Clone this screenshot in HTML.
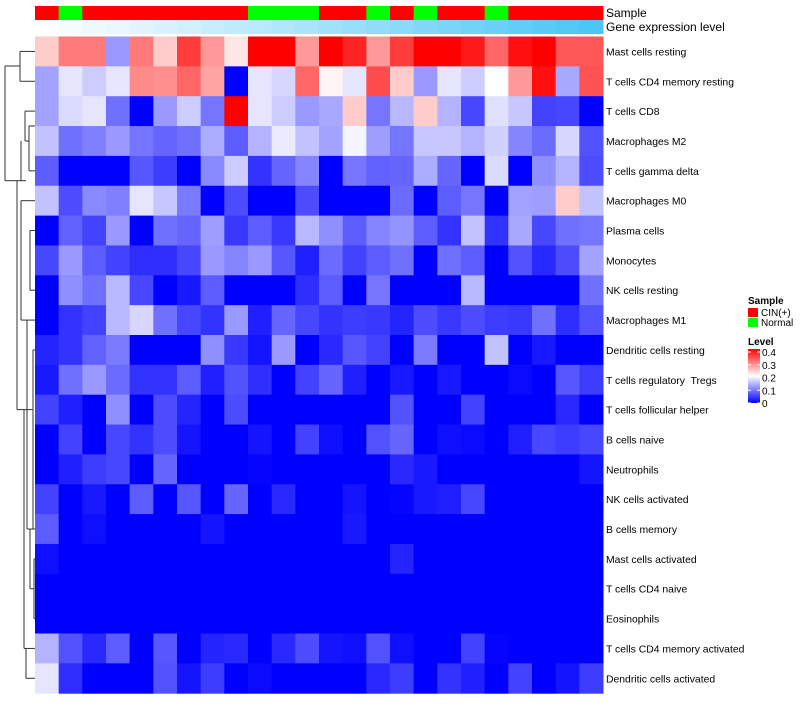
<!DOCTYPE html>
<html><head><meta charset="utf-8"><style>
body{margin:0;background:#fff;font-family:"Liberation Sans",sans-serif}
svg text{font-family:"Liberation Sans",sans-serif;white-space:pre}
</style></head><body>
<svg id="chart" width="800" height="700" xmlns="http://www.w3.org/2000/svg">
<g id="dendro" stroke="#333" stroke-width="1" fill="none"></g>
<g id="cells"></g>
<g id="annot"></g>
<g id="labels" font-size="10.4" fill="#000"></g>
<text x="606" y="17" font-size="12">Sample</text>
<text x="606" y="31" font-size="12">Gene expression level</text>
<g>
<text x="748" y="304" font-size="10" font-weight="bold">Sample</text>
<rect x="748" y="308" width="10" height="9" fill="#ff0000"/>
<text x="761" y="316" font-size="10">CIN(+)</text>
<rect x="748" y="318" width="10" height="9" fill="#00ff00"/>
<text x="761" y="326" font-size="10">Normal</text>
<text x="748" y="345" font-size="10" font-weight="bold">Level</text>
<defs><linearGradient id="lg" x1="0" y1="1" x2="0" y2="0"><stop offset="0" stop-color="#0000ff"/><stop offset="0.5" stop-color="#ffffff"/><stop offset="1" stop-color="#ff0000"/></linearGradient></defs>
<rect x="748" y="349" width="12" height="54" fill="url(#lg)"/>
<g id="lticks" font-size="10"></g>
</g>
</svg>
<script>
const rowNames=["Mast cells resting","T cells CD4 memory resting","T cells CD8","Macrophages M2","T cells gamma delta","Macrophages M0","Plasma cells","Monocytes","NK cells resting","Macrophages M1","Dendritic cells resting","T cells regulatory  Tregs","T cells follicular helper","B cells naive","Neutrophils","NK cells activated","B cells memory","Mast cells activated","T cells CD4 naive","Eosinophils","T cells CD4 memory activated","Dendritic cells activated"];
const sampleGroup=["C","N","C","C","C","C","C","C","C","N","N","N","C","C","N","C","N","C","C","N","C","C","C","C"];
const geneLevel=[0,1,2,3,4,5,6,7,8,9,10,11,12,13,14,15,16,17,18,19,20,21,22,23];
const levelTicks=[0,0.1,0.2,0.3,0.4];
const scaled=[
[6,7.6,7.6,3,7.6,6,8.8,7,5.5,10,10,7,10,9.3,7,8.8,10,10,9.5,8,9.7,10,8.3,8.3],
[3.2,4.5,4,4.5,7.3,7.2,8,6.8,0,4.5,4.2,8,5.2,4.5,8.5,6,3,4.5,4,5,7,9.7,3.3,8.4],
[3.2,4.3,4.5,2.2,0,3,4,2.3,10,4.5,4,3,3.3,6,2.3,3.6,6,3.5,1.4,4.4,3.9,1.3,1.4,0],
[3.8,2.2,2.5,3,2.3,2,2.2,3.4,1.8,3.5,4.6,3.8,3.2,4.8,3.1,2.3,3.9,3.9,3.5,4.1,2.6,2.1,4.2,1.6],
[1.8,0,0,0,1.7,1.2,0,2.7,4,1,2,2.6,0,2.3,1.9,2,3.4,2,0,4.3,0,2.8,3.5,1.5],
[3.8,1.5,2.7,2.5,4.5,3.9,2.4,0,1.5,0,0,1.5,0,0,0,2.1,0,1.8,2.3,0,3.2,3.1,6,3.8],
[0,1.9,1.3,3,0,2.2,2,3.1,1.1,1.8,1.1,3.6,2.8,1.8,2.6,2.9,1.8,1,3.8,1,3.3,1.4,2.2,2.3],
[1.4,3,1.8,1.3,0.9,0.9,1.4,3,2.6,3,1.7,0.6,2.1,1.3,1.8,2.2,0,2.2,1.8,0,1.6,0.8,1.5,3.2],
[0,2.8,2.2,3.6,1.4,0,0.5,1.8,0,0,0,0.9,1.8,0,2.3,0,0,0,3.6,0,0,0,0,2.2],
[0,1,1.3,3.6,4.2,2.2,1.4,1,3,0.6,2,1.4,1,1.2,1.1,0.7,1.5,1.1,1.5,1.2,1.1,2.2,0.9,1.6],
[0.7,1,1.9,2.4,0,0,0,2.8,1.1,0.4,3,0,0.8,1.7,1.3,0,2.4,0,0,3.8,0,0.5,0,0],
[0.5,2.2,3,2.1,1,1,1.8,0.6,1.6,0.9,0,1.3,2,0.6,0,0.5,0,0.5,0,0,0.2,0,1.7,1.2],
[1.3,0.6,0,2.8,0,1.5,0.7,0,1.5,0,0,0,0,0,0,1.6,0,0,1.3,0,0,0,0.8,0],
[0,1.3,0,1.4,1,1.5,0.4,0,0,0.4,0,1.3,0.3,0,1.6,2,0,0.3,0.2,0,0.6,1.4,1.2,1.4],
[0,0.6,1.2,1.4,0,2,0,0,0,0.1,0,0,0,0,0,0.8,0.5,0,0,0,0,0,0,0.4],
[1.3,0,0.5,0,1.8,0,1.7,0,2,0,0.8,0,0,0.4,0,0.1,0.5,0.6,1.4,0,0,0,0,0],
[1.8,0,0.3,0,0,0,0,0.4,0,0,0,0,0,0.5,0,0,0,0,0,0,0,0,0,0],
[0.3,0,0,0,0,0,0,0,0,0,0,0,0,0,0,0.7,0,0,0,0,0,0,0,0],
[0,0,0,0,0,0,0,0,0,0,0,0,0,0,0,0,0,0,0,0,0,0,0,0],
[0,0,0,0,0,0,0,0,0,0,0,0,0,0,0,0,0,0,0,0,0,0,0,0],
[3.5,1.6,0.8,1.8,0,1.7,0,0.7,0.8,0,0.8,1.5,0.4,0.3,1.6,0.3,0,0,1.3,0.1,0,0,0,0],
[4.5,0.9,0,0,0,1.6,0.4,1.2,0,0.2,0,0,0,0,0.8,1.2,0,1,0.6,0,1.3,0,0.4,1.2]
];
const values=scaled.map(r=>r.map(v=>v*0.04));
const NS="http://www.w3.org/2000/svg";
const X0=35,X1=603,Y0=36.5,RH=29.85;
const nC=24,CW=(X1-X0)/nC;
const xPos=i=>X0+i*CW, yPos=j=>Y0+j*RH;
function col(v){v=Math.max(0,Math.min(0.4,v));let r,g,b;
 if(v<=0.2){const t=v/0.2;r=255*t;g=255*t;b=255;}else{const t=(v-0.2)/0.2;r=255;g=255*(1-t);b=255*(1-t);}
 return `rgb(${Math.round(r)},${Math.round(g)},${Math.round(b)})`;}
function mk(tag,attrs,parent){const e=document.createElementNS(NS,tag);for(const k in attrs)e.setAttribute(k,attrs[k]);parent.appendChild(e);return e;}
const cells=document.getElementById('cells');
values.forEach((row,j)=>row.forEach((v,i)=>{
 const r=mk('rect',{x:xPos(i),y:yPos(j),width:CW+0.5,height:RH+0.5,fill:col(v)},cells);
 
 
}));
const annot=document.getElementById('annot');
sampleGroup.forEach((s,i)=>{
 const r=mk('rect',{x:xPos(i),y:6,width:CW+0.5,height:14,fill:s==="C"?"#ff0000":"#00ff00"},annot);
 
 
});
const gmax=Math.max(...geneLevel);
geneLevel.forEach((g,i)=>{const t=g/gmax;
 const c=`rgb(${Math.round(255-(255-75)*t)},${Math.round(255-(255-198)*t)},${Math.round(255-(255-245)*t)})`;
 const r=mk('rect',{x:xPos(i),y:20,width:CW+0.5,height:14,fill:c},annot);
 
 
});
const labels=document.getElementById('labels');
rowNames.forEach((n,j)=>{
 const t=mk('text',{x:606,y:yPos(j)+RH/2+4},labels);t.textContent=n;
 
 
});
const lt=document.getElementById('lticks');
levelTicks.forEach(v=>{const y=403-v/0.4*51;
 const t=mk('text',{x:762,y:y+4},lt);t.textContent=v===0?"0":v.toFixed(1);
 
 
 mk('line',{x1:748,x2:751,y1:y,y2:y,stroke:"#fff"},lt);mk('line',{x1:757,x2:760,y1:y,y2:y,stroke:"#fff"},lt);
});
const d=document.getElementById('dendro');
const cy=j=>yPos(j)+RH/2;
function seg(x1,y1,x2,y2){mk('line',{x1,y1,x2,y2},d);}
function join(a,b,x,xa,xb){seg(x,a,x,b);seg(x,a,xa,a);seg(x,b,xb,b);}
join(cy(0),cy(1),20,35,35);
join(cy(2),cy(3),25,35,29);
join(cy(3)-15,cy(4),29,35,35);
seg(29,cy(3)-15,35,cy(3)-15);
join(cy(5),cy(9),21,35,27);
join(cy(6),cy(8),30,35,35);
join(cy(9),cy(16),27,35,30);
join(cy(10),cy(16),33,35,35);
join(cy(17),cy(19),34,35,35);
join(cy(16),cy(18),30,35,34);
join(cy(20),cy(21),26,35,35);
join(cy(12),cy(20),24,33,26);
join(cy(5)-20,cy(12),17,26,24);
seg(21,cy(3),21,cy(5)-20);
join(66,cy(5)-20,5,20,17);
</script>
</body></html>
